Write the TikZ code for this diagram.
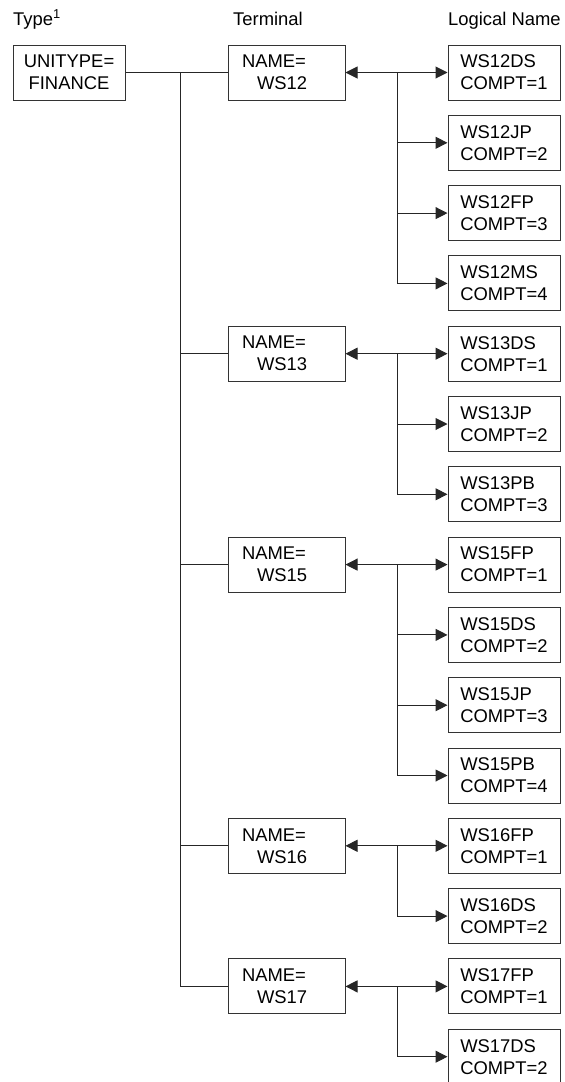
\documentclass[tikz,border=0pt]{standalone}
\usepackage{fontspec}
\setmainfont{Liberation Sans}
\usetikzlibrary{arrows.meta,positioning}

\begin{document}
\begin{tikzpicture}[
  x=1pt, y=-1pt,
  node distance=14.3pt and 102pt,
  every node/.style={font=\fontsize{18.4pt}{22pt}\selectfont},
  headlabel/.style={anchor=base west, inner sep=0pt},
  typebox/.style={
    rectangle,
    draw=black!80,
    line width=1pt,
    align=center,
    minimum width=112pt,
    minimum height=55pt,
    inner sep=0pt
  },
  termbox/.style={
    rectangle,
    draw=black!80,
    line width=1pt,
    align=left,
    text width=89pt,
    inner xsep=14pt,
    inner ysep=0pt,
    minimum height=55pt
  },
  lognamebox/.style={
    rectangle,
    draw=black!80,
    line width=1pt,
    align=left,
    minimum width=112pt,
    minimum height=55pt,
    inner sep=0pt
  },
  link/.style={draw=black!85, line width=1pt},
  arrow/.style={link, -{Triangle[length=12pt, width=12pt]}},
  dblarrow/.style={link, {Triangle[length=12pt, width=12pt]}-{Triangle[length=12pt, width=12pt]}}
]
\useasboundingbox (0,0) rectangle (565,1082);

% column headings
\node[headlabel] (hdtype) at (13,25) {Type\textsuperscript{1}};
\node[headlabel] (hdterm) at (233,25) {Terminal};
\node[headlabel] (hdlog) at (448,25) {Logical Name};

% type and first terminal
\node[typebox] (unit) at (69,72.5) {UNITYPE=\\FINANCE};
\node[termbox, right=of unit] (ws12) {NAME=\\\hspace*{15pt}WS12};

% logical names
\node[lognamebox, right=of ws12] (ws12ds) {WS12DS\\COMPT=1};
\node[lognamebox, below=of ws12ds] (ws12jp) {WS12JP\\COMPT=2};
\node[lognamebox, below=of ws12jp] (ws12fp) {WS12FP\\COMPT=3};
\node[lognamebox, below=of ws12fp] (ws12ms) {WS12MS\\COMPT=4};
\node[lognamebox, below=of ws12ms] (ws13ds) {WS13DS\\COMPT=1};
\node[lognamebox, below=of ws13ds] (ws13jp) {WS13JP\\COMPT=2};
\node[lognamebox, below=of ws13jp] (ws13pb) {WS13PB\\COMPT=3};
\node[lognamebox, below=of ws13pb] (ws15fp) {WS15FP\\COMPT=1};
\node[lognamebox, below=of ws15fp] (ws15ds) {WS15DS\\COMPT=2};
\node[lognamebox, below=of ws15ds] (ws15jp) {WS15JP\\COMPT=3};
\node[lognamebox, below=of ws15jp] (ws15pb) {WS15PB\\COMPT=4};
\node[lognamebox, below=of ws15pb] (ws16fp) {WS16FP\\COMPT=1};
\node[lognamebox, below=of ws16fp] (ws16ds) {WS16DS\\COMPT=2};
\node[lognamebox, below=of ws16ds] (ws17fp) {WS17FP\\COMPT=1};
\node[lognamebox, below=of ws17fp] (ws17ds) {WS17DS\\COMPT=2};

% other terminals, level with their first logical name
\node[termbox, left=of ws13ds] (ws13) {NAME=\\\hspace*{15pt}WS13};
\node[termbox, left=of ws15fp] (ws15) {NAME=\\\hspace*{15pt}WS15};
\node[termbox, left=of ws16fp] (ws16) {NAME=\\\hspace*{15pt}WS16};
\node[termbox, left=of ws17fp] (ws17) {NAME=\\\hspace*{15pt}WS17};

% type to terminals
\coordinate[right=55pt of unit.east] (spine);
\draw[link] (unit) -- (ws12);
\draw[link] (spine) -- (spine |- ws17.west) -- (ws17);
\draw[link] (spine |- ws13.west) -- (ws13);
\draw[link] (spine |- ws15.west) -- (ws15);
\draw[link] (spine |- ws16.west) -- (ws16);

% terminals to logical names
\coordinate[right=52pt of ws12.east] (b12);
\coordinate[right=52pt of ws13.east] (b13);
\coordinate[right=52pt of ws15.east] (b15);
\coordinate[right=52pt of ws16.east] (b16);
\coordinate[right=52pt of ws17.east] (b17);

\draw[dblarrow] (ws12) -- (ws12ds);
\draw[arrow] (b12) |- (ws12jp);
\draw[arrow] (b12) |- (ws12fp);
\draw[arrow] (b12) |- (ws12ms);

\draw[dblarrow] (ws13) -- (ws13ds);
\draw[arrow] (b13) |- (ws13jp);
\draw[arrow] (b13) |- (ws13pb);

\draw[dblarrow] (ws15) -- (ws15fp);
\draw[arrow] (b15) |- (ws15ds);
\draw[arrow] (b15) |- (ws15jp);
\draw[arrow] (b15) |- (ws15pb);

\draw[dblarrow] (ws16) -- (ws16fp);
\draw[arrow] (b16) |- (ws16ds);

\draw[dblarrow] (ws17) -- (ws17fp);
\draw[arrow] (b17) |- (ws17ds);
\end{tikzpicture}
\end{document}
